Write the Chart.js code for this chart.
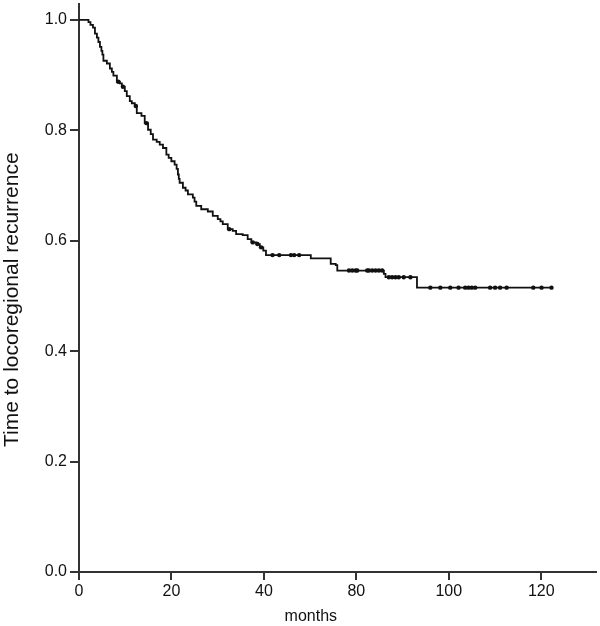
<!DOCTYPE html>
<html>
<head>
<meta charset="utf-8">
<script src="https://cdn.jsdelivr.net/npm/chart.js@4.4.1/dist/chart.umd.min.js"></script>
<style>
  html, body { margin: 0; padding: 0; background: #fff; }
  #wrap { width: 600px; height: 626px; position: relative; }
</style>
</head>
<body>
<div id="wrap"><canvas id="km"></canvas></div>
<script>
// step curve: month of each drop and survival after it (last entry = end of follow-up)
// x is in axis units (one tick per 20), the printed tick labels skip 60 like the source figure
const stepMonths = [0, 2.05, 2.48, 3.02, 3.45, 3.88, 4.20, 4.53, 4.85, 5.06, 5.28, 6.03, 6.68, 7.11, 7.44,
  8.19, 8.84, 9.27, 9.91, 10.34, 10.99, 11.42, 12.07, 12.50, 13.51, 14.22, 14.94, 15.52, 16.01, 16.81,
  17.46, 18.17, 18.90, 19.40, 19.98, 20.69, 21.12, 21.40, 21.59, 21.77, 22.48, 23.06, 23.56, 24.63,
  25.00, 25.37, 26.44, 27.87, 28.94, 30.02, 30.60, 31.10, 32.18, 33.25, 33.99, 35.41, 36.49, 37.28,
  38.36, 39.12, 39.87, 40.45, 50.15, 54.46, 55.54, 55.88, 65.95, 66.31, 73.12, 102.22];
const stepSurvival = [1.0, 0.996, 0.991, 0.986, 0.975, 0.968, 0.960, 0.951, 0.944, 0.937, 0.926, 0.921,
  0.912, 0.906, 0.899, 0.888, 0.885, 0.879, 0.871, 0.862, 0.853, 0.849, 0.844, 0.831, 0.826, 0.813,
  0.801, 0.793, 0.783, 0.779, 0.774, 0.768, 0.756, 0.750, 0.744, 0.738, 0.730, 0.720, 0.712, 0.705,
  0.696, 0.691, 0.684, 0.678, 0.671, 0.663, 0.657, 0.653, 0.645, 0.639, 0.635, 0.630, 0.621, 0.618,
  0.612, 0.610, 0.603, 0.597, 0.594, 0.588, 0.582, 0.574, 0.568, 0.558, 0.556, 0.546, 0.540, 0.534,
  0.515, 0.515];

// censored cases (tick marks on the curve)
const censorMonths = [8.5, 9.5, 12.3, 14.6, 32.5, 37.6, 38.6, 39.4,
  41.87, 43.32, 45.84, 46.55, 47.63,
  58.41, 59.12, 59.85, 60.19, 62.35, 62.72, 63.43, 64.16, 64.87, 65.58,
  67.03, 67.74, 68.47, 69.18, 70.26, 71.70,
  76.01, 78.17, 80.32, 82.11, 83.55, 84.27, 84.98, 85.71, 88.94, 90.02, 91.10, 92.52, 98.28, 100.07, 102.22];
const censorSurvival = [0.888, 0.879, 0.844, 0.813, 0.621, 0.597, 0.594, 0.588,
  0.574, 0.574, 0.574, 0.574, 0.574,
  0.546, 0.546, 0.546, 0.546, 0.546, 0.546, 0.546, 0.546, 0.546, 0.546,
  0.534, 0.534, 0.534, 0.534, 0.534, 0.534,
  0.515, 0.515, 0.515, 0.515, 0.515, 0.515, 0.515, 0.515, 0.515, 0.515, 0.515, 0.515, 0.515, 0.515, 0.515];

const xTickValues = [0, 20, 40, 60, 80, 100];
const xTickLabels = ['0', '20', '40', '80', '100', '120'];
const yTickValues = [0, 0.2, 0.4, 0.6, 0.8, 1.0];

const ink = '#111';
const axisInk = '#333';
const font = { family: 'Liberation Sans, Arial, sans-serif', size: 16 };
// trailing no-break spaces nudge the centred axis titles to where the original has them
const pad = (n) => '\u00a0'.repeat(n);

const curve = stepMonths.map((m, i) => ({ x: m, y: stepSurvival[i] }));
const censored = censorMonths.map((m, i) => ({ x: m, y: censorSurvival[i] }));

new Chart(document.getElementById('km'), {
  type: 'line',
  data: {
    datasets: [
      {
        data: curve,
        stepped: 'before',
        borderColor: ink,
        borderWidth: 1.8,
        pointRadius: 0,
        fill: false
      },
      {
        type: 'scatter',
        data: censored,
        showLine: false,
        pointRadius: 2.2,
        pointBackgroundColor: ink,
        pointBorderWidth: 0
      }
    ]
  },
  options: {
    responsive: true,
    maintainAspectRatio: false,
    animation: false,
    layout: { padding: { top: 0, right: 1, bottom: 0, left: 0 } },
    plugins: { legend: { display: false }, tooltip: { enabled: false } },
    scales: {
      x: {
        type: 'linear',
        min: 0,
        max: 111.85,
        afterBuildTicks: (s) => { s.ticks = xTickValues.map(v => ({ value: v })); },
        afterFit: (s) => { s.height = 54; s.paddingLeft = 0; s.paddingRight = 0; },
        border: { display: true, color: axisInk, width: 2 },
        grid: { display: true, drawOnChartArea: false, drawTicks: true, tickLength: 8, color: axisInk, lineWidth: 2 },
        ticks: {
          color: ink, font: font, padding: 2, maxRotation: 0, autoSkip: false,
          callback: (v, i) => xTickLabels[i]
        },
        title: { display: true, text: 'months' + pad(12), color: ink, font: font, padding: 0 }
      },
      y: {
        type: 'linear',
        min: 0,
        max: 1.0288,
        afterBuildTicks: (s) => { s.ticks = yTickValues.map(v => ({ value: v })); },
        afterFit: (s) => { s.width = 79; s.paddingTop = 0; s.paddingBottom = 0; },
        border: { display: true, color: axisInk, width: 2 },
        grid: { display: true, drawOnChartArea: false, drawTicks: true, tickLength: 9, color: axisInk, lineWidth: 2 },
        ticks: {
          color: ink, font: font, padding: 3,
          callback: (v) => v.toFixed(1)
        },
        title: {
          display: true, text: 'Time to locoregional recurrence' + pad(4), color: ink,
          font: { family: 'Liberation Sans, Arial, sans-serif', size: 21 }, padding: 0
        }
      }
    }
  }
});
</script>
</body>
</html>
